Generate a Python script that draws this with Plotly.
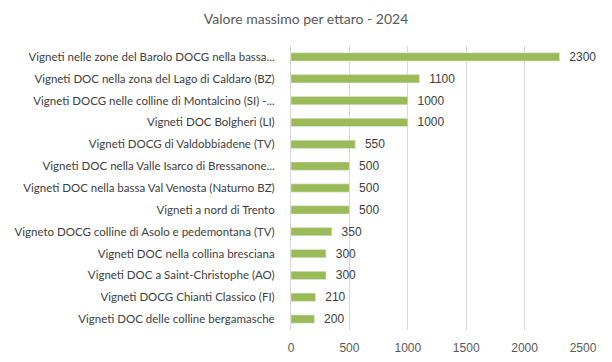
import plotly.graph_objects as go

categories = [
    "Vigneti nelle zone del Barolo DOCG nella bassa...",
    "Vigneti DOC nella zona del Lago di Caldaro (BZ)",
    "Vigneti DOCG nelle colline di Montalcino (SI) -...",
    "Vigneti DOC Bolgheri (LI)",
    "Vigneti DOCG di Valdobbiadene (TV)",
    "Vigneti DOC nella Valle Isarco di Bressanone...",
    "Vigneti DOC nella bassa Val Venosta (Naturno BZ)",
    "Vigneti a nord di Trento",
    "Vigneto DOCG colline di Asolo e pedemontana (TV)",
    "Vigneti DOC nella collina bresciana",
    "Vigneti DOC a Saint-Christophe (AO)",
    "Vigneti DOCG Chianti Classico (FI)",
    "Vigneti DOC delle colline bergamasche",
]
values = [2300, 1100, 1000, 1000, 550, 500, 500, 500, 350, 300, 300, 210, 200]
x_ticks = [0, 500, 1000, 1500, 2000, 2500]

fig = go.Figure(go.Bar(
    y=categories, x=values, orientation="h",
    marker=dict(color="#9BBB59"),
    text=["  " + str(v) for v in values], textposition="outside",
    constraintext="none",
    textfont=dict(family="Liberation Sans, Arial", size=12, color="#404040"),
    cliponaxis=False,
))
fig.update_layout(
    width=612, height=362,
    margin=dict(l=283, r=37, t=38, b=40, autoexpand=False),
    paper_bgcolor="white", plot_bgcolor="white",
    title=dict(text="Valore massimo per ettaro - 2024", x=298 / 612, xanchor="center",
               xref="container", y=1 - 11 / 362, yref="container", yanchor="middle",
               font=dict(family="Lato, Noto Sans", size=14, color="#595959")),
    bargap=0.62,
    showlegend=False,
)
fig.update_xaxes(range=[0, 2500], tickvals=x_ticks, showgrid=True, gridcolor="#D9D9D9",
                 gridwidth=1, zeroline=False, showline=False, automargin=False,
                 ticklabelstandoff=9,
                 tickfont=dict(family="Liberation Sans, Arial", size=12, color="#595959"))
fig.update_yaxes(autorange="reversed", showline=True, linecolor="#D9D9D9", linewidth=1,
                 ticks="", ticklabelstandoff=13, automargin=False,
                 tickfont=dict(family="Lato, Noto Sans", size=11.5, color="#404040"))
fig.write_html("out.html")
